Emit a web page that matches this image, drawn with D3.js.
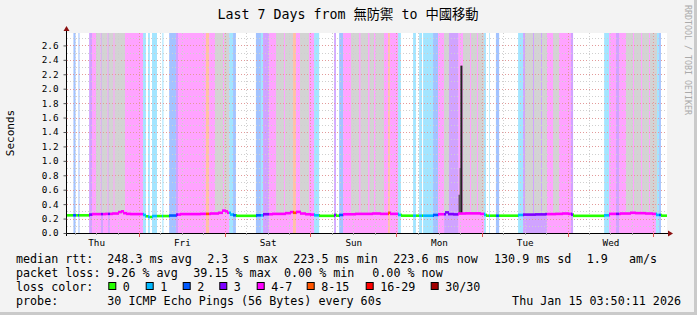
<!DOCTYPE html>
<html>
<head>
<meta charset="utf-8">
<script src="https://d3js.org/d3.v7.min.js"></script>
<style>
  body { margin: 0; background: #f3f3f3; }
  svg { display: block; }
  text { font-family: "DejaVu Sans Mono", "Noto Sans CJK TC", monospace; fill: #000; }
</style>
</head>
<body>
<svg width="697" height="315"></svg>
<script>
// ---- data ----
const titleText = "Last 7 Days from 無防禦 to 中國移動";
const endTime = Date.UTC(2026, 0, 15, 3, 50, 11);
const spanHours = 168;

const lossLabels = ["0", "1", "2", "3", "4-7", "8-15", "16-29", "30/30"];
const lossColors = ["#26ff00", "#00b8ff", "#0059ff", "#7e00ff", "#ff00ff", "#ff5500", "#ff0000", "#a00000"];

// [startHour, endHour, lossClass] hours counted from the left edge of the graph
const lossBands = [
  [1.8, 2.4, 2], [3.2, 3.5, 2], [6.2, 7.0, 3], [7.0, 9.5, 4], [9.5, 10.1, 3], [10.1, 11.5, 4],
  [11.5, 12.0, 3], [12.0, 21.3, 4], [21.3, 22.1, 1], [22.7, 23.2, 1], [23.8, 25.2, 1],
  [26.7, 27.0, 1], [28.6, 30.5, 2], [30.5, 31.1, 3], [31.1, 38.9, 4], [38.9, 39.8, 5],
  [39.8, 45.4, 4], [45.4, 46.5, 1], [46.5, 47.3, 2], [52.9, 54.3, 2], [54.3, 54.9, 1],
  [54.9, 56.6, 3], [56.6, 63.3, 4], [63.3, 64.1, 5], [64.1, 69.2, 4], [69.2, 70.6, 1],
  [74.8, 75.3, 3], [76.2, 77.3, 2], [77.3, 89.9, 4], [89.9, 90.4, 5], [90.4, 92.7, 4],
  [92.7, 93.5, 1], [96.9, 97.7, 1], [98.6, 99.4, 1], [99.7, 102.5, 1], [102.5, 103.9, 2],
  [103.9, 105.6, 4], [105.6, 109.6, 3], [109.6, 116.8, 4], [116.8, 117.3, 1], [118.2, 118.4, 1],
  [120.1, 121.0, 2], [126.3, 127.7, 1], [127.7, 134.4, 3], [134.4, 141.1, 4], [141.1, 141.7, 3],
  [150.4, 151.8, 1], [151.8, 153.7, 4], [153.7, 154.6, 3], [154.6, 164.9, 4], [164.9, 165.8, 1],
  [165.8, 166.3, 2]
];

// [startHour, endHour] periods where the smoke reaches the top
const smokeBands = [
  [8.12, 9.38], [9.66, 11.34], [11.62, 13.02], [13.3, 16.24],
  [41.44, 43.68], [43.96, 45.36], [58.52, 60.76], [61.04, 63.28], [65.24, 67.76],
  [79.52, 81.76], [82.18, 84.28], [84.7, 85.96], [86.38, 88.76],
  [105.56, 106.96], [110.88, 112.84], [113.12, 114.8], [115.08, 116.76],
  [128.24, 130.48], [130.76, 132.72], [133.0, 134.4], [136.08, 137.76],
  [156.52, 158.48], [158.76, 160.72], [161.0, 162.96], [163.24, 165.2]
];

// median rtt steps [startHour, seconds]
const median = [
  [0, 0.245], [6.2, 0.255], [7.0, 0.262], [10.6, 0.265], [12.6, 0.27], [14.3, 0.29],
  [15.1, 0.30], [15.7, 0.275], [16.5, 0.265], [17.6, 0.262], [21.3, 0.25], [21.8, 0.232],
  [22.7, 0.222], [23.8, 0.235], [28.6, 0.242], [30.5, 0.255], [31.6, 0.262], [37.2, 0.265],
  [40.0, 0.27], [42.3, 0.28], [43.4, 0.31], [44.2, 0.30], [44.8, 0.28], [45.6, 0.255],
  [46.5, 0.245], [47.3, 0.238], [52.9, 0.245], [54.9, 0.26], [57.4, 0.265], [61.0, 0.275],
  [62.4, 0.29], [63.3, 0.28], [64.1, 0.292], [65.2, 0.27], [66.6, 0.26], [68.0, 0.255],
  [69.2, 0.245], [70.6, 0.238], [74.8, 0.25], [75.3, 0.24], [76.2, 0.25], [77.3, 0.26],
  [80.6, 0.265], [85.4, 0.27], [87.6, 0.265], [89.9, 0.28], [90.4, 0.265], [92.7, 0.25],
  [93.5, 0.24], [102.5, 0.25], [103.9, 0.26], [105.8, 0.285], [106.7, 0.262], [108.1, 0.258],
  [109.5, 0.27], [111.4, 0.272], [115.6, 0.265], [116.8, 0.25], [117.3, 0.24], [126.3, 0.25],
  [127.7, 0.255], [131.0, 0.258], [133.8, 0.262], [136.6, 0.265], [138.6, 0.27], [140.3, 0.265],
  [141.1, 0.255], [141.7, 0.238], [150.4, 0.245], [151.8, 0.265], [154.8, 0.27], [157.6, 0.28],
  [159.0, 0.275], [161.8, 0.27], [163.8, 0.265], [164.9, 0.25], [166.3, 0.24]
];

// the Monday spike [hour, seconds]
const spikes = [[109.8, 0.53], [110.05, 0.90], [110.3, 2.32]];

const yTicks = [0, 0.2, 0.4, 0.6, 0.8, 1.0, 1.2, 1.4, 1.6, 1.8, 2.0, 2.2, 2.4, 2.6];

const rttLegend = ["median rtt:", "248.3 ms avg", "2.3  s max", "223.5 ms min", "223.6 ms now", "130.9 ms sd", "1.9   am/s"];
const lossLegend = ["packet loss:", "9.26 % avg", "39.15 % max", "0.00 % min", "0.00 % now"];
const probeText = "30 ICMP Echo Pings (56 Bytes) every 60s";
const stampText = "Thu Jan 15 03:50:11 2026";

// ---- layout ----
const svg = d3.select("svg");
const pL = 67, pR = 667, pT = 33, pB = 233;
const startTime = endTime - spanHours * 3600e3;
const at = h => new Date(startTime + h * 3600e3);

const x = d3.scaleUtc().domain([new Date(startTime), new Date(endTime)]).range([pL, pR]);
const y = d3.scaleLinear().domain([0, 2.772]).range([pB, pT]);

// frame
svg.append("rect").attr("width", 697).attr("height", 315).attr("fill", "#f3f3f3");
svg.append("rect").attr("x", 694).attr("width", 3).attr("height", 315).attr("fill", "#cacaca");
svg.append("rect").attr("y", 312).attr("width", 697).attr("height", 3).attr("fill", "#cacaca");

// canvas
svg.append("rect").attr("x", pL).attr("y", pT).attr("width", pR - pL).attr("height", pB - pT).attr("fill", "#fff");

// loss background
svg.append("g").selectAll("rect").data(lossBands).join("rect")
  .attr("x", d => x(at(d[0])))
  .attr("width", d => x(at(d[1])) - x(at(d[0])))
  .attr("y", pT).attr("height", pB - pT)
  .attr("fill", d => lossColors[d[2]])
  .attr("fill-opacity", 0.36);

// smoke
svg.append("g").selectAll("rect").data(smokeBands).join("rect")
  .attr("x", d => x(at(d[0])))
  .attr("width", d => x(at(d[1])) - x(at(d[0])))
  .attr("y", pT).attr("height", y(0.262) - pT)
  .attr("fill", "#d3d3d3");

// grid
const grid = svg.append("g").attr("fill", "none").attr("stroke-dasharray", "1,2");
d3.range(1, 28).forEach(i => {
  const v = i / 10;
  grid.append("line").attr("x1", pL).attr("x2", pR)
    .attr("y1", Math.round(y(v)) + 0.5).attr("y2", Math.round(y(v)) + 0.5)
    .attr("stroke", i % 2 === 0 ? "#e39a9a" : "#cfcfcf");
});
const sixHours = d3.utcHour.every(6).range(new Date(startTime), new Date(endTime));
sixHours.forEach(t => {
  const major = t.getUTCHours() === 0;
  const px = Math.round(x(t)) + 0.5;
  grid.append("line").attr("x1", px).attr("x2", px).attr("y1", pT).attr("y2", pB)
    .attr("stroke", major ? "#e39a9a" : "#cfcfcf");
});

// spike
svg.append("g").selectAll("rect").data(spikes).join("rect")
  .attr("x", d => x(at(d[0])) - 0.5)
  .attr("width", (d, i) => i === 2 ? 2 : 1.2)
  .attr("y", d => y(d[1]))
  .attr("height", d => y(0.27) - y(d[1]))
  .attr("fill", (d, i) => i === 1 ? "#777" : "#222");

// median line, coloured by loss
const lossAt = h => { const b = lossBands.find(b => h >= b[0] && h < b[1]); return b ? b[2] : 0; };
const valueAt = h => { let v = median[0][1]; for (const m of median) { if (m[0] <= h) v = m[1]; else break; } return v; };
const cols = [];
let prevY = null;
for (let px = pL; px < pR; px++) {
  const h = (x.invert(px + 0.5) - startTime) / 3600e3;
  const vy = y(valueAt(h));
  const y0 = prevY === null ? vy : Math.min(prevY, vy);
  const y1 = prevY === null ? vy : Math.max(prevY, vy);
  cols.push({ px, y0, y1, c: lossColors[lossAt(h)] });
  prevY = vy;
}
svg.append("g").selectAll("rect").data(cols).join("rect")
  .attr("x", d => d.px).attr("width", 1)
  .attr("y", d => d.y0 - 1.3).attr("height", d => d.y1 - d.y0 + 2.6)
  .attr("fill", d => d.c);

// axes
svg.append("line").attr("x1", pL - 3).attr("x2", pR + 1).attr("y1", pB + 0.5).attr("y2", pB + 0.5).attr("stroke", "#000");
svg.append("line").attr("x1", pL - 0.5).attr("x2", pL - 0.5).attr("y1", pB + 3).attr("y2", pT - 3).attr("stroke", "#000");
svg.append("path").attr("d", `M${pL - 3.5},${pT - 2}L${pL + 2.5},${pT - 2}L${pL - 0.5},${pT - 7}Z`).attr("fill", "#8b1010");
svg.append("path").attr("d", `M${pR + 1},${pB - 2.5}L${pR + 1},${pB + 3.5}L${pR + 6},${pB + 0.5}Z`).attr("fill", "#8b1010");

const yAxis = svg.append("g").attr("transform", `translate(${pL - 0.5},0)`)
  .call(d3.axisLeft(y).tickValues(yTicks).tickFormat(d3.format(".1f")).tickSize(3).tickPadding(5));
yAxis.select(".domain").remove();
yAxis.selectAll("line").attr("stroke", "#555");
yAxis.selectAll("text").attr("font-size", "9.3px").attr("font-family", "DejaVu Sans Mono").attr("fill", "#000");

const noons = d3.utcDay.range(d3.utcDay.floor(new Date(startTime)), new Date(endTime))
  .map(d => d3.utcHour.offset(d, 12)).filter(d => d < endTime && d > startTime);
const xAxis = svg.append("g").attr("transform", `translate(0,${pB + 0.5})`)
  .call(d3.axisBottom(x).tickValues(noons).tickFormat(d3.utcFormat("%a")).tickSize(0).tickPadding(6));
xAxis.select(".domain").remove();
xAxis.selectAll("text").attr("font-size", "9.3px").attr("font-family", "DejaVu Sans Mono").attr("fill", "#000");

// small ticks under the x axis
sixHours.forEach(t => {
  const major = t.getUTCHours() === 0;
  const px = Math.round(x(t)) + 0.5;
  svg.append("line").attr("x1", px).attr("x2", px).attr("y1", pB).attr("y2", pB + (major ? 4 : 2))
    .attr("stroke", major ? "#e05050" : "#999");
});

// titles
svg.append("text").attr("x", 348).attr("y", 19).attr("text-anchor", "middle").attr("font-size", "13.3px").text(titleText);
svg.append("text").attr("transform", "translate(14,133) rotate(-90)").attr("text-anchor", "middle")
  .attr("font-size", "11px").text("Seconds");
svg.append("text").attr("transform", "translate(685,5) rotate(90)").attr("font-size", "8.3px")
  .style("fill", "#aaa").text("RRDTOOL / TOBI OETIKER");

// legend
const fs = "11.7px";
const rttX = [16, 107.3, 207.3, 293.3, 393.3, 494, 586.7];
rttLegend.forEach((t, i) => svg.append("text").attr("x", rttX[i]).attr("y", 262.5).attr("font-size", fs).style("white-space", "pre").text(t));
const lossX = [16, 107.3, 193.3, 284, 372.3];
lossLegend.forEach((t, i) => svg.append("text").attr("x", lossX[i]).attr("y", 276.5).attr("font-size", fs).text(t));

svg.append("text").attr("x", 16).attr("y", 290.5).attr("font-size", fs).text("loss color:");
const swatchX = [108.3, 145.7, 182.7, 219.3, 256.7, 306.7, 365.7, 430.7];
lossLabels.forEach((l, i) => {
  svg.append("rect").attr("x", swatchX[i] + 0.5).attr("y", 282.5).attr("width", 7).attr("height", 7)
    .attr("fill", lossColors[i]).attr("stroke", "#000");
  svg.append("text").attr("x", swatchX[i] + 14.5).attr("y", 290.5).attr("font-size", fs).text(l);
});

svg.append("text").attr("x", 16).attr("y", 304.5).attr("font-size", fs).text("probe:");
svg.append("text").attr("x", 107.3).attr("y", 304.5).attr("font-size", fs).text(probeText);
svg.append("text").attr("x", 681).attr("y", 304.5).attr("text-anchor", "end").attr("font-size", fs).text(stampText);
</script>
</body>
</html>
